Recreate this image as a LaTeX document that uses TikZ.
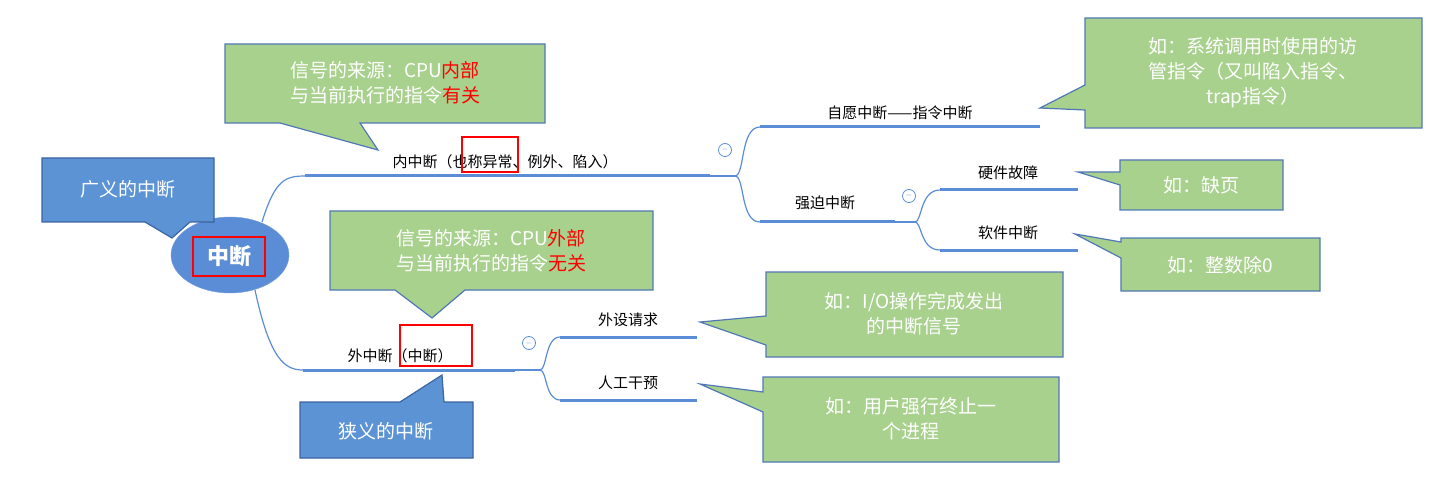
\documentclass[tikz,border=0pt]{standalone}
\usepackage{fontspec}
\usetikzlibrary{shapes.geometric}
\setmainfont{Noto Sans CJK SC}
\begin{document}
\begin{tikzpicture}[x=1pt,y=-1pt,
  green/.style={fill={rgb,255:red,169;green,209;blue,142}, draw={rgb,255:red,80;green,120;blue,180}, line width=1.2pt},
  bluebox/.style={fill={rgb,255:red,91;green,147;blue,213}, draw={rgb,255:red,60;green,100;blue,160}, line width=1.2pt},
  ctext/.style={text=white, font=\fontsize{19}{25}\selectfont, align=center},
  btext/.style={text=black, font=\fontsize{15}{19}\selectfont, anchor=south},
  bar/.style={draw={rgb,255:red,91;green,141;blue,214}, line width=3pt},
  thin/.style={draw={rgb,255:red,91;green,141;blue,214}, line width=1.2pt},
  minus/.style={circle, draw={rgb,255:red,91;green,141;blue,214}, line width=0.8pt, minimum size=13pt, inner sep=0pt, font=\fontsize{8}{8}\selectfont, text={rgb,255:red,91;green,141;blue,214}},
  redbox/.style={draw=red, line width=2pt}]
\useasboundingbox (0,0) rectangle (1456,481);
% connectors from root
\draw[thin] (262,222) .. controls (275,180) and (285,176) .. (305,176);
\draw[thin] (255,290) .. controls (270,360) and (285,370) .. (303,370);
% root
\node[ellipse, fill={rgb,255:red,91;green,141;blue,214}, draw={rgb,255:red,120;green,160;blue,220}, minimum width=118pt, minimum height=76pt] (root) at (230,255) {};
\node[text=white, font=\bfseries\fontsize{22}{22}\selectfont] (roott) at (229,256) {中断};
\draw[redbox] (193,237) rectangle (265,276);
% 广义
\draw[bluebox] (42,158) -- (214,158) -- (214,222) -- (190,222) -- (172,238) -- (145,222) -- (42,222) -- cycle;
\node[ctext] (gy) at (128,189) {广义的中断};
% 内中断
\node[btext] (nei) at (505,172) {内中断（也称异常、例外、陷入）};
\draw[bar] (305,176) -- (710,176);
\draw[thin] (710,176) -- (735,176);
\draw[redbox] (462,137) rectangle (518,172);
\draw[green] (225,44) -- (545,44) -- (545,123) -- (360,123) -- (378,150) -- (280,123) -- (225,123) -- cycle;
\node[ctext] (c1) at (385,83) {信号的来源：CPU\textcolor{red}{内部}\\与当前执行的指令\textcolor{red}{有关}};
\node[minus] (m1) at (725,150) {$-$};
% 外中断
\node[btext] (wai) at (400,366) {外中断（中断）};
\draw[bar] (303,370) -- (515,370);
\draw[thin] (515,370) -- (540,370);
\draw[redbox] (400,325) rectangle (472,366);
\draw[green] (330,211) -- (653,211) -- (653,290) -- (465,290) -- (432,318) -- (395,290) -- (330,290) -- cycle;
\node[ctext] (c2) at (491,251) {信号的来源：CPU\textcolor{red}{外部}\\与当前执行的指令\textcolor{red}{无关}};
\draw[bluebox] (300,402) -- (400,402) -- (442,375) -- (444,402) -- (473,402) -- (473,458) -- (300,458) -- cycle;
\node[ctext] (xy) at (386,431) {狭义的中断};
\node[minus] (m3) at (529,343) {$-$};
% branches of 内中断
\draw[thin] (735,176) .. controls (745,176) and (740,127) .. (760,127);
\draw[thin] (735,176) .. controls (745,176) and (740,222) .. (760,222);
\draw[bar] (760,127) -- (1040,127);
\node[btext] (zy) at (900,123) {自愿中断——指令中断};
\draw[bar] (760,222) -- (895,222);
\node[btext] (qp) at (825,213) {强迫中断};
\draw[thin] (895,222) -- (915,222);
\node[minus] (m2) at (909,196) {$-$};
\draw[thin] (915,222) .. controls (922,222) and (920,190) .. (940,190);
\draw[thin] (915,222) .. controls (922,222) and (920,250) .. (940,250);
\draw[bar] (940,190) -- (1078,190);
\node[btext] (yj) at (1008,183) {硬件故障};
\draw[bar] (940,250) -- (1078,250);
\node[btext] (rj) at (1008,243) {软件中断};
% branches of 外中断
\draw[thin] (540,370) .. controls (547,370) and (545,337) .. (560,337);
\draw[thin] (540,370) .. controls (547,370) and (545,400) .. (560,400);
\draw[bar] (560,337) -- (697,337);
\node[btext] (ws) at (628,330) {外设请求};
\draw[bar] (560,400) -- (697,400);
\node[btext] (rg) at (628,393) {人工干预};
% right callouts
\draw[green] (1085,18) -- (1422,18) -- (1422,128) -- (1085,128) -- (1085,110) -- (1040,108) -- (1085,85) -- cycle;
\node[ctext] (c3) at (1253,73) {如：系统调用时使用的访\\管指令（又叫陷入指令、\\trap指令）};
\draw[green] (1120,160) -- (1283,160) -- (1283,210) -- (1120,210) -- (1120,185) -- (1078,172) -- (1120,172) -- cycle;
\node[ctext] (c4) at (1201,185) {如：缺页};
\draw[green] (1121,238) -- (1320,238) -- (1320,291) -- (1121,291) -- (1121,258) -- (1075,234) -- (1121,242) -- cycle;
\node[ctext] (c5) at (1220,265) {如：整数除0};
\draw[green] (766,272) -- (1063,272) -- (1063,357) -- (766,357) -- (766,345) -- (700,322) -- (766,316) -- cycle;
\node[ctext] (c6) at (914,314) {如：I/O操作完成发出\\的中断信号};
\draw[green] (763,377) -- (1059,377) -- (1059,462) -- (763,462) -- (763,412) -- (700,384) -- (763,392) -- cycle;
\node[ctext] (c7) at (911,419) {如：用户强行终止一\\个进程};
\end{tikzpicture}
\end{document}
